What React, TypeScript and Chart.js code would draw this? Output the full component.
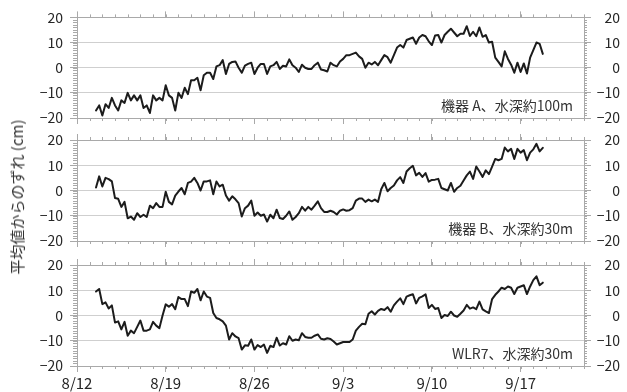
import React, { useEffect, useRef } from 'react';
import { Chart, registerables } from 'chart.js';

Chart.register(...registerables);

// Sea-level deviation from the mean, 6-hourly samples starting 8/13 12:00
const startDay = 1.5; // days after 8/12 00:00
const stepDays = 0.25;

const dayTicks = [0, 7, 14, 21, 28, 35];
const dateLabels = ['8/12', '8/19', '8/26', '9/3', '9/10', '9/17'];
const cmTicks = [-20, -10, 0, 10, 20];

const seriesA = [
  -17, -15, -19, -14.5, -16, -12, -15, -17,
  -13, -14, -10, -13, -11, -13, -11, -16,
  -15, -18, -11, -13, -12, -13, -7, -11,
  -12, -17, -10, -12, -8, -10.5, -5, -5,
  -4, -9, -3, -2, -2, -4.5, 0.5, 1,
  3, -2.5, 1.5, 2.3, 2.5, 0, -2, 0.8,
  1.5, 2, -2.5, 0, 1.5, 1.5, -2.5, 0.5,
  1, 2.3, -0.5, 0.8, 0.5, 3.3, 1, 0,
  -1.7, 1.2, 0, -0.5, -0.5, 1, 2, -0.7,
  -1, -1.5, 2, 1, 0.5, 2.5, 3.5, 5,
  5, 5.5, 6, 4.5, 3.5, 0, 2, 1.3,
  2.3, 1, 3, 5, 4.2, 2, 5, 8,
  9, 8, 11, 11.5, 12, 9.5, 12, 13,
  12.5, 10.5, 9, 12.8, 13, 10, 13, 14.3,
  15.5, 14, 12.5, 13.5, 13.5, 16.5, 12.6, 14.3,
  12.5, 16, 12.3, 13, 10, 10.3, 4, 2.3,
  0.5, 6.5, 3.5, 1.2, -2, 2, -1.7, 1.7,
  -2.3, 4, 7, 10, 9.5, 5.5,
];

const seriesB = [
  1.2, 5.6, 1.6, 5, 4.5, 3.6, -3, -3.3,
  -6.5, -4.5, -11, -10.3, -11.6, -9, -10.5, -9.6,
  -10.5, -6, -7, -5, -6.5, -6.5, -0.5, -4.5,
  -5.5, -2, -0.4, 1, -1.5, 3, 3.5, 5,
  3, 0, 3.6, 3.6, 4, -1.5, 3.6, 1.6,
  2.3, -2, -4, -2.3, -3.5, -5, -10.3, -7,
  -6, -4, -10, -8.7, -10, -9.5, -12.3, -9.6,
  -11, -7.6, -10.9, -11.3, -10, -8.3, -11.6, -10.5,
  -9, -6.5, -8, -6.5, -7.6, -6, -4.3, -7,
  -8.5, -8.5, -8, -8.5, -9.5, -8, -7.5, -8,
  -7.8, -7, -4, -3.2, -3.2, -4.5, -3.6, -4.3,
  -3.6, -4.5, 0.5, 3, -0.3, 1, 2, 4,
  5.3, 3, 7.5, 8.8, 9.8, 6, 7, 5.4,
  6.9, 3.5, 4.2, 4.3, 4.6, 1, 0.5, 0,
  3, -0.5, 1, 1.9, 4, 6, 7.5, 4.6,
  9.5, 7.5, 5.4, 8, 6.5, 9.5, 12.5, 12,
  12.5, 17, 15.5, 16.5, 12.5, 16.5, 15, 16,
  12, 15, 16.3, 18.5, 15.5, 16.9,
];

const seriesC = [
  9.5, 10.5, 4.5, 5.2, 2.8, 4, -2.8, -2.3,
  -5.5, -2.5, -8, -6, -7, -4.5, -2, -6,
  -6, -5.5, -2.5, -4, -5, 0, 4.4, 3.5,
  4.5, 2.5, 7.3, 6.5, 6.5, 3.7, 9.5, 9,
  10.5, 6, 9.5, 7.5, 7, 1, -1, -1.5,
  -2.3, -4, -9.5, -7, -8.3, -9, -13.5, -11.8,
  -12, -9.5, -13.5, -11.7, -12.5, -11.5, -14.8, -12,
  -12.5, -8.8, -11.9, -11, -11.5, -8.2, -10, -9.5,
  -9.8, -7, -8.5, -8.8, -8.8, -8, -7.5, -9.2,
  -9.5, -9, -9.3, -10.3, -11.5, -11, -10.5, -10.5,
  -10.5, -9.5, -6, -4.5, -3.3, -3.5, 0.7, 1.7,
  0.4, 1.8, 2.6, 2.2, 3.3, 1.5, 4, 5.5,
  6.8, 4.5, 7.5, 8, 8.4, 4.8, 7, 7.6,
  8.4, 3, 4.2, 2.6, 3, -1, 0.2, -0.2,
  1.5, 0, -0.5, 0.7, 2, 4.2, 2.7, 3.2,
  2.5, 5.5, 2.4, 1.6, 1, 6.5, 8.2, 9.5,
  11, 10.5, 11.5, 11, 8.5, 11, 11.5, 12,
  8.5, 11.5, 14, 15.5, 12, 13,
];

const panelLabels = ['機器 A、水深約100m', '機器 B、水深約30m', 'WLR7、水深約30m'];
const yTitle = '平均値からのずれ (cm)';

// ---- layout & styling ----
const W = 627;
const H = 392;
const PLOT_LEFT = 77;
const PLOT_RIGHT = 584;
const RIGHT_AXIS_W = 36;
const panelTops = [17, 140, 265];
const panelBottoms = [118, 241, 366];
const FONT = '"Noto Sans CJK JP", "Noto Sans", sans-serif';
const FRAME = '#a9a9a9';
const GRID = '#cfcfcf';
const TEXT = '#262626';

Chart.defaults.font.family = FONT;

const fmtCm = (v: number) => (v < 0 ? '\u2212' + Math.abs(v) : String(v));

// Small daily / per-centimetre tick marks around each panel frame
const minorTicks = {
  id: 'minorTicks',
  afterDraw(chart: any) {
    const { ctx, chartArea: a, scales } = chart;
    const xs = scales.x;
    const ys = scales.y;
    ctx.save();
    ctx.strokeStyle = FRAME;
    ctx.lineWidth = 1;
    ctx.beginPath();
    for (let d = xs.min; d <= xs.max; d++) {
      const px = Math.round(xs.getPixelForValue(d)) + 0.5;
      ctx.moveTo(px, a.top);
      ctx.lineTo(px, a.top - 3);
      ctx.moveTo(px, a.bottom);
      ctx.lineTo(px, a.bottom + 3);
    }
    for (let c = ys.min; c <= ys.max; c++) {
      const py = Math.round(ys.getPixelForValue(c)) + 0.5;
      ctx.moveTo(a.left, py);
      ctx.lineTo(a.left - 4, py);
      ctx.moveTo(a.right, py);
      ctx.lineTo(a.right + 3, py);
    }
    ctx.stroke();
    ctx.restore();
  },
};

// Instrument caption in the lower right corner of each panel
const panelCaption = {
  id: 'panelCaption',
  afterDatasetsDraw(chart: any, _args: any, opts: any) {
    const { ctx, chartArea: a } = chart;
    ctx.save();
    ctx.font = `14px ${FONT}`;
    ctx.fillStyle = '#333';
    ctx.textAlign = 'right';
    ctx.textBaseline = 'middle';
    ctx.fillText(opts.text, a.right - 11, a.bottom - 12);
    ctx.restore();
  },
};

function makeConfig(values: number[], caption: string, top: number, bottom: number, showDates: boolean): any {
  const topAxisH = 10;
  const bottomAxisH = showDates ? H - bottom : 10;
  const xCommon = {
    type: 'linear',
    min: 0,
    max: 40,
    afterBuildTicks: (s: any) => {
      s.ticks = dayTicks.map((v) => ({ value: v }));
    },
    grid: { drawOnChartArea: false, drawTicks: true, tickLength: 6, tickColor: FRAME, color: FRAME },
    border: { color: FRAME, width: 1 },
  };
  const yCommon = {
    type: 'linear',
    min: -20,
    max: 20,
    afterBuildTicks: (s: any) => {
      s.ticks = cmTicks.map((v) => ({ value: v }));
    },
    border: { color: FRAME, width: 1 },
    ticks: { padding: 7, color: TEXT, font: { size: 14 }, callback: (v: number) => fmtCm(v) },
  };
  return {
    type: 'line',
    data: {
      datasets: [
        {
          data: values.map((v, i) => ({ x: startDay + i * stepDays, y: v })),
          xAxisID: 'x',
          yAxisID: 'y',
          borderColor: '#1c1c1c',
          borderWidth: 2,
          pointRadius: 0,
          tension: 0,
          borderJoinStyle: 'round',
          borderCapStyle: 'round',
        },
      ],
    },
    options: {
      responsive: false,
      maintainAspectRatio: false,
      animation: false,
      events: [],
      layout: {
        padding: {
          top: top - topAxisH,
          bottom: H - bottom - bottomAxisH,
          left: 0,
          right: W - PLOT_RIGHT - RIGHT_AXIS_W,
        },
      },
      plugins: {
        legend: { display: false },
        tooltip: { enabled: false },
        panelCaption: { text: caption },
      },
      scales: {
        x: {
          ...xCommon,
          position: 'bottom',
          afterFit: (s: any) => {
            s.height = bottomAxisH;
          },
          ticks: {
            display: showDates,
            padding: 2,
            color: TEXT,
            font: { size: 15 },
            maxRotation: 0,
            autoSkip: false,
            callback: (v: number) => dateLabels[dayTicks.indexOf(v)],
          },
        },
        xTop: {
          ...xCommon,
          position: 'top',
          afterFit: (s: any) => {
            s.height = topAxisH;
          },
          ticks: { display: false },
        },
        y: {
          ...yCommon,
          position: 'left',
          afterFit: (s: any) => {
            s.width = PLOT_LEFT;
          },
          grid: {
            drawOnChartArea: true,
            drawTicks: true,
            tickLength: 7,
            tickColor: FRAME,
            color: (c: any) => (Math.abs(c.tick.value) === 20 ? FRAME : GRID),
          },
        },
        yRight: {
          ...yCommon,
          position: 'right',
          afterFit: (s: any) => {
            s.width = RIGHT_AXIS_W;
          },
          grid: { drawOnChartArea: false, drawTicks: true, tickLength: 7, tickColor: FRAME, color: FRAME },
          ticks: { ...yCommon.ticks, padding: 9, crossAlign: 'far' },
        },
      },
    },
    plugins: [minorTicks, panelCaption],
  };
}

function PanelChart({ index }: { index: number }) {
  const ref = useRef<HTMLCanvasElement | null>(null);
  useEffect(() => {
    if (!ref.current) return;
    const series = [seriesA, seriesB, seriesC][index];
    const chart = new Chart(
      ref.current,
      makeConfig(series, panelLabels[index], panelTops[index], panelBottoms[index], index === 2)
    );
    return () => chart.destroy();
  }, [index]);
  return (
    <canvas
      ref={ref}
      width={W}
      height={H}
      style={{ position: 'absolute', left: 0, top: 0, width: W, height: H }}
    />
  );
}

export default function App() {
  return (
    <div
      style={{
        position: 'absolute',
        left: 0,
        top: 0,
        width: 620,
        height: H,
        overflow: 'hidden',
        background: '#fff',
      }}
    >
      {[0, 1, 2].map((i) => (
        <PanelChart key={i} index={i} />
      ))}
      <div
        style={{
          position: 'absolute',
          left: 16.5,
          top: 197,
          transform: 'translate(-50%, -50%) rotate(-90deg)',
          whiteSpace: 'nowrap',
          font: `15px ${FONT}`,
          color: '#333',
          lineHeight: '18px',
        }}
      >
        {yTitle}
      </div>
    </div>
  );
}
